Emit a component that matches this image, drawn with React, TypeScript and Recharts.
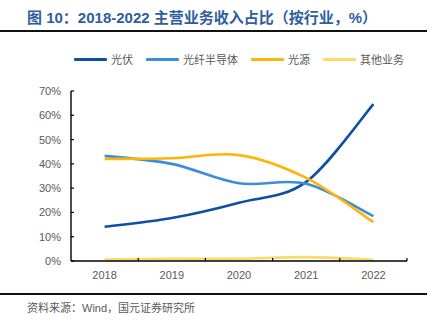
import { LineChart, Line, XAxis, YAxis } from 'recharts'

const years = ['2018', '2019', '2020', '2021', '2022']
const pv = [14.1, 17.7, 24, 32.6, 64.6]
const fiber = [43.3, 40, 32, 31.8, 18.5]
const lightSrc = [42, 42.3, 43.6, 34.2, 16]
const others = [0.6, 0.9, 0.9, 1.6, 0.5]
const yTicks = [0, 10, 20, 30, 40, 50, 60, 70]

const series = [
  { key: 'pv', name: '光伏', color: '#0F4FA3', values: pv },
  { key: 'fiber', name: '光纤半导体', color: '#3D8CD9', values: fiber },
  { key: 'light', name: '光源', color: '#FFB40A', values: lightSrc },
  { key: 'other', name: '其他业务', color: '#FFD966', values: others },
]

const data = years.map((y, i) => {
  const row: Record<string, string | number> = { year: y }
  series.forEach(s => { row[s.key] = s.values[i] })
  return row
})

const W = 441
const H = 328
const PLOT_L = 71
const PLOT_R = 407
const BAND = (PLOT_R - PLOT_L) / years.length
const LABEL = '#595959'
const FONT = '"Liberation Sans", Arial, sans-serif'
const CJK = '"Noto Sans CJK SC", sans-serif'

// Excel-style smoothed line (bezier with 1/6 neighbour tangents)
const smooth = (ctx: any) => {
  let pts: number[][] = []
  return {
    areaStart() {}, areaEnd() {},
    lineStart() { pts = [] },
    point(x: number, y: number) { pts.push([+x, +y]) },
    lineEnd() {
      if (!pts.length) return
      ctx.moveTo(pts[0][0], pts[0][1])
      for (let i = 0; i < pts.length - 1; i++) {
        const p0 = pts[i - 1] || pts[i]
        const p1 = pts[i]
        const p2 = pts[i + 1]
        const p3 = pts[i + 2] || p2
        ctx.bezierCurveTo(
          p1[0] + (p2[0] - p0[0]) / 6, p1[1] + (p2[1] - p0[1]) / 6,
          p2[0] - (p3[0] - p1[0]) / 6, p2[1] - (p3[1] - p1[1]) / 6,
          p2[0], p2[1],
        )
      }
    },
  }
}

const XTick = ({ x, y, payload }: any) => (
  <g>
    <line x1={x + BAND / 2} x2={x + BAND / 2} y1={y} y2={y - 3} stroke="#000" strokeWidth={1.2} />
    <text x={x} y={y + 18} textAnchor="middle" fill={LABEL} fontSize={11} fontFamily={FONT}>
      {payload.value}
    </text>
  </g>
)

const YTick = ({ x, y, payload }: any) => (
  <g>
    <line x1={x} x2={x + 3} y1={y} y2={y} stroke="#000" strokeWidth={1.2} />
    <text x={x - 10} y={y + 4} textAnchor="end" fill={LABEL} fontSize={11} fontFamily={FONT}>
      {payload.value}%
    </text>
  </g>
)

export default function App() {
  return (
    <div style={{ position: 'absolute', left: 0, top: 0, width: W, height: H, background: '#fff', overflow: 'hidden' }}>
      <div style={{
        position: 'absolute', left: 27, top: 8, color: '#2F5E9F', fontSize: 15, fontWeight: 'bold',
        fontFamily: `"Liberation Sans", Arial, ${CJK}`, whiteSpace: 'nowrap', lineHeight: '20px',
      }}>
        图 10：2018-2022 主营业务收入占比（按行业，%）
      </div>
      <div style={{ position: 'absolute', left: 0, top: 30, width: 427, height: 2, background: '#111' }} />

      <div style={{ position: 'absolute', left: 74, top: 51, display: 'flex', alignItems: 'center', height: 16 }}>
        {series.map(s => (
          <div key={s.key} style={{ display: 'flex', alignItems: 'center', marginRight: 13 }}>
            <div style={{ width: 33, height: 3, background: s.color, borderRadius: 1 }} />
            <span style={{ marginLeft: 4, fontSize: 11, color: LABEL, fontFamily: CJK, whiteSpace: 'nowrap' }}>{s.name}</span>
          </div>
        ))}
      </div>

      <div style={{ position: 'absolute', left: 0, top: 0 }}>
        <LineChart width={W} height={H} data={data} margin={{ top: 91, right: W - PLOT_R, left: 0, bottom: H - 261 - 30 }}>
          <XAxis
            dataKey="year"
            height={30}
            padding={{ left: BAND / 2, right: BAND / 2 }}
            axisLine={{ stroke: '#000', strokeWidth: 1.4 }}
            tickLine={false} tickSize={0} tickMargin={0}
            tick={<XTick />}
            interval={0}
          />
          <YAxis
            width={PLOT_L}
            domain={[0, 70]}
            ticks={yTicks}
            axisLine={{ stroke: '#000', strokeWidth: 1.4 }}
            tickLine={false} tickSize={0} tickMargin={0}
            tick={<YTick />}
            interval={0}
          />
          {series.map(s => (
            <Line
              key={s.key}
              dataKey={s.key}
              name={s.name}
              type={smooth as any}
              stroke={s.color}
              strokeWidth={2.6}
              dot={false}
              activeDot={false}
              isAnimationActive={false}
            />
          ))}
        </LineChart>
      </div>

      <div style={{ position: 'absolute', left: 0, top: 293, width: 427, height: 1.5, background: '#111' }} />
      <div style={{
        position: 'absolute', left: 27, top: 301, fontSize: 11, color: LABEL, lineHeight: '15px',
        fontFamily: `"Liberation Sans", Arial, ${CJK}`, whiteSpace: 'nowrap',
      }}>
        资料来源：Wind，国元证券研究所
      </div>
    </div>
  )
}
